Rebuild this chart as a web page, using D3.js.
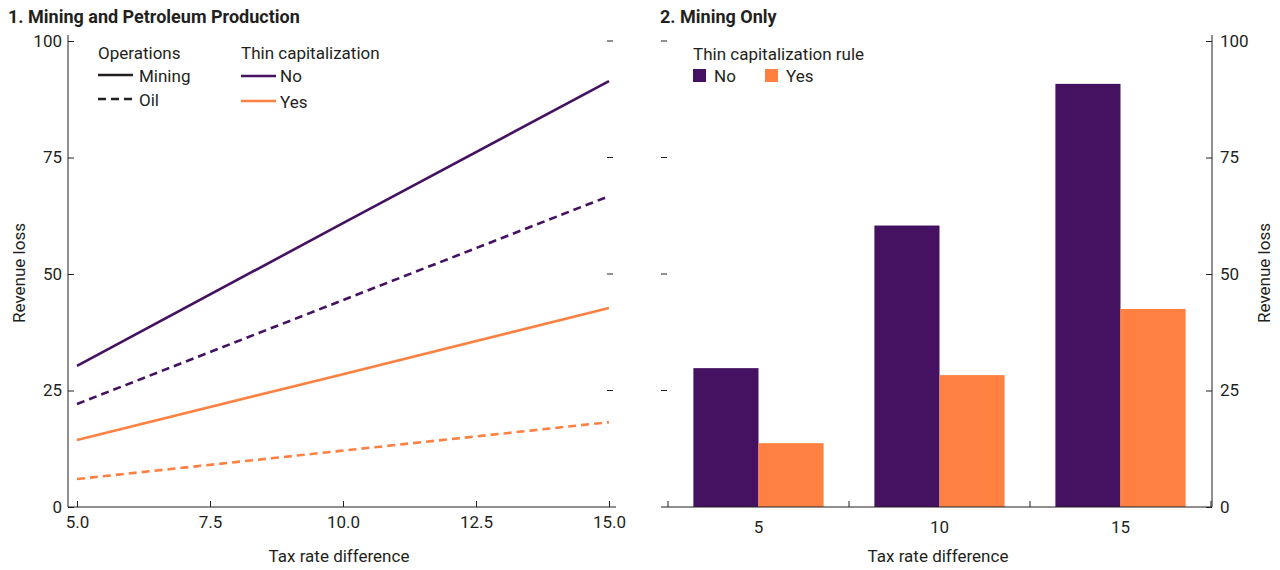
<!DOCTYPE html>
<html><head><meta charset="utf-8">
<script src="https://cdn.jsdelivr.net/npm/d3@7/dist/d3.min.js"></script>
<style>
body{margin:0;background:#fff;}
text{font-family:"Liberation Sans Narrow","Arial Narrow","Roboto",sans-serif;fill:#231f20;}
</style></head><body>
<svg id="c" width="1280" height="570"></svg>
<script>
// ---- data ----
const taxRates = [5, 10, 15];
const miningNo = [30.3, 60.9, 91.4];
const oilNo = [22.1, 44.4, 66.7];
const miningYes = [14.4, 28.5, 42.7];
const oilYes = [6.0, 12.1, 18.2];
const barCategories = ["5", "10", "15"];
const barNo = [29.8, 60.4, 90.8];
const barYes = [13.7, 28.3, 42.5];
const yTicks = [0, 25, 50, 75, 100];
const xTicksLeft = [5.0, 7.5, 10.0, 12.5, 15.0];

const purple = "#441260", orange = "#ff8142", ink = "#231f20";
const svg = d3.select("#c");
const fs = 17;

// ---- panel 1 ----
const y1 = d3.scaleLinear().domain([0,100]).range([507,41]);
const x1 = d3.scaleLinear().domain([5,15]).range([77,609]);

svg.append("text").attr("x",8).attr("y",23).attr("font-size",18).attr("font-weight","bold").text("1. Mining and Petroleum Production");
svg.append("text").attr("x",660).attr("y",23).attr("font-size",18).attr("font-weight","bold").text("2. Mining Only");

const gy1 = svg.append("g").attr("transform","translate(68,0)")
  .call(d3.axisLeft(y1).tickValues(yTicks).tickSizeInner(-6).tickSizeOuter(0).tickPadding(6).tickFormat(d3.format("d")));
gy1.select(".domain").attr("d","M0,35V507");
const gx1 = svg.append("g").attr("transform","translate(0,507)")
  .call(d3.axisBottom(x1).tickValues(xTicksLeft).tickSizeInner(-6).tickSizeOuter(0).tickPadding(9).tickFormat(d3.format(".1f")));
gx1.select(".domain").attr("d","M68,0H616");
// mirrored ticks (right side of panel 1)
svg.append("g").selectAll("line").data(yTicks.filter(d=>d>0)).join("line")
  .attr("x1",607).attr("x2",613).attr("y1",d=>y1(d)).attr("y2",d=>y1(d)).attr("stroke",ink).attr("stroke-width",1);

svg.append("text").attr("transform","translate(25,273) rotate(-90)").attr("text-anchor","middle").attr("font-size",fs).text("Revenue loss");
svg.append("text").attr("x",339).attr("y",562).attr("text-anchor","middle").attr("font-size",fs).text("Tax rate difference");

const line = d3.line().x((d,i)=>x1(taxRates[i])).y(d=>y1(d));
const series = [
  {v:miningNo,c:purple,dash:null},
  {v:oilNo,c:purple,dash:"8,5"},
  {v:miningYes,c:orange,dash:null},
  {v:oilYes,c:orange,dash:"8,5"}
];
svg.append("g").selectAll("path").data(series).join("path")
  .attr("d",d=>line(d.v)).attr("fill","none").attr("stroke",d=>d.c).attr("stroke-width",2.6)
  .attr("stroke-dasharray",d=>d.dash);

// legend panel 1
const lg = svg.append("g");
lg.append("text").attr("x",98).attr("y",59).attr("font-size",fs).text("Operations");
lg.append("line").attr("x1",98).attr("x2",133).attr("y1",75).attr("y2",75).attr("stroke",ink).attr("stroke-width",2.5);
lg.append("text").attr("x",139).attr("y",82).attr("font-size",fs).text("Mining");
lg.append("line").attr("x1",98).attr("x2",133).attr("y1",99).attr("y2",99).attr("stroke",ink).attr("stroke-width",2.5).attr("stroke-dasharray","8,5");
lg.append("text").attr("x",139).attr("y",106).attr("font-size",fs).text("Oil");
lg.append("text").attr("x",241).attr("y",59).attr("font-size",fs).text("Thin capitalization");
lg.append("line").attr("x1",241).attr("x2",276).attr("y1",76).attr("y2",76).attr("stroke",purple).attr("stroke-width",2.5);
lg.append("text").attr("x",280).attr("y",82).attr("font-size",fs).text("No");
lg.append("line").attr("x1",241).attr("x2",276).attr("y1",101).attr("y2",101).attr("stroke",orange).attr("stroke-width",2.5);
lg.append("text").attr("x",280).attr("y",108).attr("font-size",fs).text("Yes");

// ---- panel 2 ----
const y2 = d3.scaleLinear().domain([0,100]).range([507,41]);
const x2 = d3.scaleBand().domain(barCategories).range([668,1211]);
const xs = d3.scaleBand().domain(["No","Yes"]).range([0,x2.bandwidth()]).paddingOuter(0.39).paddingInner(0);

const bars = svg.append("g");
barCategories.forEach((c,i)=>{
  bars.append("rect").attr("x",x2(c)+xs("No")).attr("width",xs.bandwidth()).attr("y",y2(barNo[i])).attr("height",y2(0)-y2(barNo[i])).attr("fill",purple);
  bars.append("rect").attr("x",x2(c)+xs("Yes")).attr("width",xs.bandwidth()).attr("y",y2(barYes[i])).attr("height",y2(0)-y2(barYes[i])).attr("fill",orange);
});

const gy2 = svg.append("g").attr("transform","translate(1212,0)")
  .call(d3.axisRight(y2).tickValues(yTicks).tickSizeInner(-6).tickSizeOuter(0).tickPadding(8).tickFormat(d3.format("d")));
gy2.select(".domain").attr("d","M0,35V507");
const gx2 = svg.append("g").attr("transform","translate(0,507)")
  .call(d3.axisBottom(x2).tickSize(0).tickPadding(14));
gx2.select(".domain").attr("d","M661,0H1212");
// boundary ticks
const bounds = barCategories.map(c=>x2(c)).concat([x2.range()[1]]);
gx2.append("g").selectAll("line").data(bounds).join("line")
  .attr("x1",d=>d).attr("x2",d=>d).attr("y1",0).attr("y2",-6).attr("stroke",ink);
// mirrored ticks (left side of panel 2)
svg.append("g").selectAll("line").data(yTicks.filter(d=>d>0)).join("line")
  .attr("x1",661).attr("x2",667).attr("y1",d=>y2(d)).attr("y2",d=>y2(d)).attr("stroke",ink).attr("stroke-width",1);

svg.selectAll(".tick text").attr("font-size",fs).attr("fill",ink).attr("font-family",null);
svg.selectAll(".tick line").attr("stroke",ink);
svg.selectAll(".domain").attr("stroke",ink);
svg.selectAll("g[font-family]").attr("font-family",null).attr("font-size",null);

svg.append("text").attr("transform","translate(1270,273) rotate(-90)").attr("text-anchor","middle").attr("font-size",fs).text("Revenue loss");
svg.append("text").attr("x",938).attr("y",562).attr("text-anchor","middle").attr("font-size",fs).text("Tax rate difference");

// legend panel 2
const lg2 = svg.append("g");
lg2.append("text").attr("x",693).attr("y",60).attr("font-size",fs).text("Thin capitalization rule");
lg2.append("rect").attr("x",693).attr("y",69).attr("width",13).attr("height",13).attr("fill",purple);
lg2.append("text").attr("x",714).attr("y",82).attr("font-size",fs).text("No");
lg2.append("rect").attr("x",765).attr("y",69).attr("width",13).attr("height",13).attr("fill",orange);
lg2.append("text").attr("x",786).attr("y",82).attr("font-size",fs).text("Yes");
</script></body></html>
